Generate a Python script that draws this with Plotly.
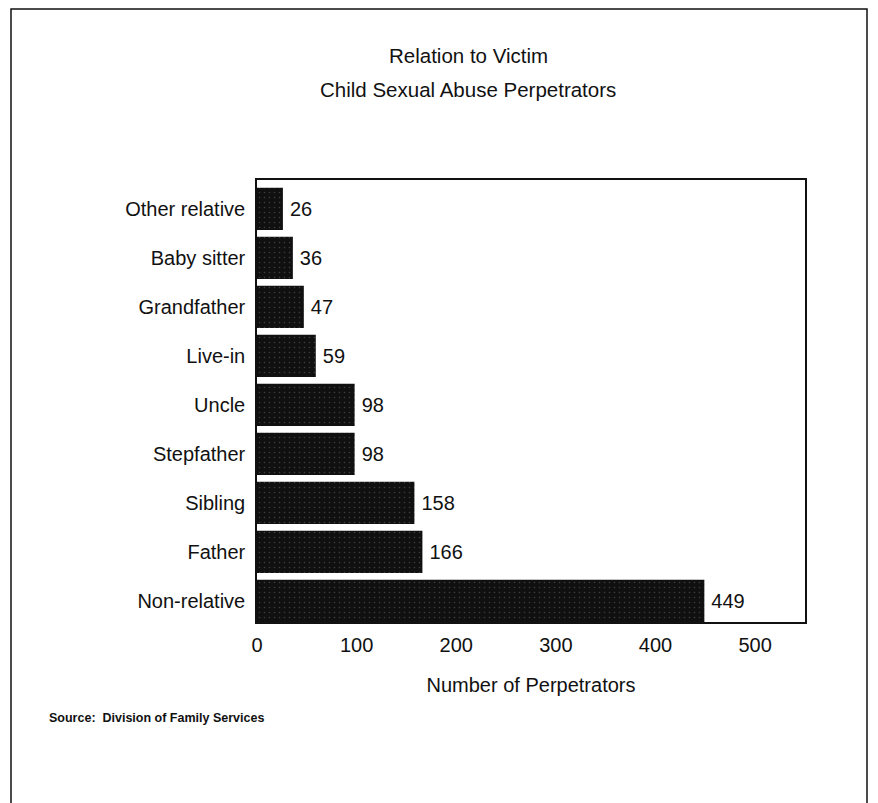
import plotly.graph_objects as go

categories = ["Non-relative", "Father", "Sibling", "Stepfather", "Uncle",
              "Live-in", "Grandfather", "Baby sitter", "Other relative"]
values = [449, 166, 158, 98, 98, 59, 47, 36, 26]
label_text = ["449", "166", "158", "98", "98", "59", "47", "36", "26"]
x_ticks = [0, 100, 200, 300, 400, 500]

FONT = "Liberation Sans, Arial, Helvetica, sans-serif"

# the page body adds an 8px margin, so the figure is drawn 8px in
W, H = 870, 795
L, R, T, B = 249, 73, 172, 181
pw = W - L - R
ph = H - T - B


def px_x(x):
    return (x - 8 - L) / pw


def px_y(y):
    return 1 - (y - 8 - T) / ph


fig = go.Figure()
fig.add_trace(go.Bar(
    y=categories,
    x=values,
    orientation="h",
    width=0.86,
    marker=dict(color="#101010", line=dict(width=0),
                pattern=dict(shape=".", fgcolor="#6a6a6a", bgcolor="#101010",
                             size=5, solidity=0.08)),
    text=["\u2009" + t for t in label_text],
    textposition="outside",
    textfont=dict(size=20, color="#111", family=FONT),
    cliponaxis=False,
    showlegend=False,
))

fig.update_layout(
    width=W, height=H,
    margin=dict(l=L, r=R, t=T, b=B),
    paper_bgcolor="white",
    plot_bgcolor="white",
    font=dict(family=FONT, color="#111", size=20),
    annotations=[
        dict(text="Relation to Victim", x=px_x(468), y=px_y(55), xref="paper", yref="paper",
             yanchor="middle", showarrow=False, font=dict(size=20.5, family=FONT, color="#111")),
        dict(text="Child Sexual Abuse Perpetrators", x=px_x(468), y=px_y(89),
             xref="paper", yref="paper", yanchor="middle",
             showarrow=False, font=dict(size=20.5, family=FONT, color="#111")),
        dict(text="<b>Source:  Division of Family Services</b>", x=px_x(47), y=px_y(718),
             xref="paper", yref="paper", xanchor="left", yanchor="middle", showarrow=False,
             font=dict(size=12.5, family=FONT, color="#111")),
    ],
)

fig.update_xaxes(
    range=[0, 550],
    tickvals=x_ticks,
    ticktext=[str(t) for t in x_ticks],
    showgrid=False, zeroline=False,
    showline=True, linecolor="#111", linewidth=1.5, mirror=True,
    ticks="", tickfont=dict(size=20, family=FONT, color="#111"),
    ticklabelstandoff=4,
    title=dict(text="Number of Perpetrators", font=dict(size=20, family=FONT, color="#111"),
               standoff=23),
)
fig.update_yaxes(
    range=[-0.43, 8.59],
    categoryorder="array", categoryarray=categories,
    showgrid=False, zeroline=False,
    showline=True, linecolor="#111", linewidth=1.5, mirror=True,
    ticks="", tickfont=dict(size=20, family=FONT, color="#111"),
    ticklabelstandoff=6,
)

# outer page frame
fig.add_shape(type="rect", xref="paper", yref="paper",
              x0=px_x(11), x1=px_x(867),
              y0=px_y(830), y1=px_y(9),
              line=dict(color="#111", width=1.5), layer="below")

fig.write_html("out.html")
